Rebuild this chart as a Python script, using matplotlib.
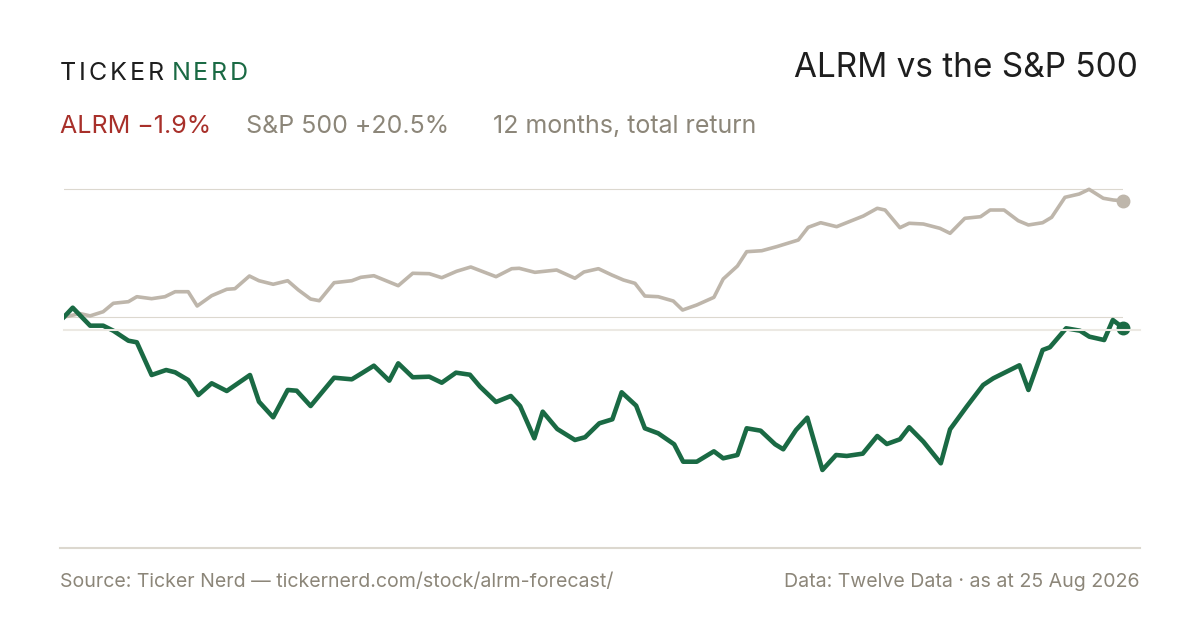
import matplotlib
matplotlib.use("Agg")
import matplotlib.pyplot as plt
from matplotlib.lines import Line2D

plt.rcParams['font.family'] = ['Inter', 'DejaVu Sans']

# days since start (calendar), total return in %
alrm_days = [0, 3.0, 9.0, 13.5, 17.0, 22.2, 25.1, 30.2, 35.2, 38.3, 42.8, 46.3, 50.9, 56.1,
             64.1, 67.2, 72.1, 77.1, 80.2, 85.0, 93.1, 99.2, 102.6, 106.8, 112.1, 115.2,
             120.2, 125.9, 130.2, 135.1, 139.9, 143.4, 148.9, 154.0, 157.2, 162.1, 165.0,
             170.0, 176.1, 179.6, 184.5, 189.0, 192.2, 197.2, 200.2, 204.8, 210.3, 213.4,
             218.1, 224.0, 227.2, 232.1, 235.3, 240.1, 245.1, 247.9, 252.3, 256.2, 261.4,
             266.1, 269.8, 275.3, 280.3, 283.6, 288.1, 291.3, 296.2, 302.2, 305.4, 311.1,
             316.8, 320.3, 329.3, 332.4, 337.3, 339.8, 345.4, 350.2, 353.4, 358.5, 361.5, 365]
alrm_ret = [0.0, 1.64, -1.53, -1.53, -2.42, -4.18, -4.46, -10.23, -9.35, -9.75, -11.11, -13.76,
            -11.69, -13.05, -10.23, -14.94, -17.69, -12.87, -13.0, -15.7, -10.71, -10.99, -9.93,
            -8.59, -11.23, -8.17, -10.63, -10.53, -11.59, -9.82, -10.18, -12.29, -14.99, -13.93,
            -15.70, -21.39, -16.70, -19.75, -21.69, -21.2, -18.75, -18.04, -13.28, -15.64, -19.63,
            -20.51, -22.45, -25.52, -25.52, -23.69, -24.92, -24.34, -19.63, -20.05, -22.45,
            -23.33, -19.93, -17.76, -26.98, -24.34, -24.51, -24.1, -20.99, -22.40, -21.57,
            -19.45, -21.99, -25.80, -19.81, -15.82, -11.99, -10.81, -8.52, -12.87, -5.82, -5.34,
            -1.99, -2.42, -3.47, -4.06, -0.53, -1.9]

spx_days = [0, 5.5, 9.0, 13.5, 17.0, 22.2, 25.1, 30.2, 34.8, 38.3, 42.8, 45.9, 50.9, 56.1, 58.9,
            63.9, 67.2, 72.1, 77.1, 80.8, 85.0, 88.0, 93.1, 99.2, 102.3, 106.8, 115.2, 120.2,
            125.9, 130.2, 135.3, 140.2, 148.9, 154.3, 156.9, 162.3, 169.8, 176.1, 179.2, 184.2,
            188.8, 192.8, 196.8, 200.2, 204.8, 210.0, 213.2, 218.1, 224.0, 227.2, 232.1, 235.3,
            240.5, 245.6, 253.1, 256.5, 260.8, 266.3, 275.5, 280.3, 283.0, 288.1, 291.3, 296.2,
            301.9, 305.4, 310.5, 315.9, 319.2, 324.0, 328.9, 332.4, 337.3, 340.4, 345.0, 349.9,
            353.3, 358.2, 361.7, 365]
spx_ret = [0.0, 0.6, 0.2, 0.93, 2.42, 2.70, 3.58, 3.23, 3.58, 4.46, 4.46, 1.94, 3.76, 4.89, 4.99,
           7.23, 6.40, 5.77, 6.40, 4.76, 3.17, 2.87, 6.05, 6.40, 7.00, 7.28, 5.52, 7.71, 7.64,
           6.93, 8.06, 8.82, 7.11, 8.52, 8.59, 7.88, 8.29, 6.83, 7.94, 8.52, 7.41, 6.53, 5.94,
           3.70, 3.58, 2.82, 1.23, 2.12, 3.47, 6.70, 8.99, 11.52, 11.69, 12.40, 13.58, 15.82,
           16.63, 15.93, 17.81, 19.17, 18.87, 15.75, 16.53, 16.40, 15.64, 14.76, 17.41, 17.69,
           18.87, 18.87, 16.98, 16.23, 16.63, 17.58, 21.11, 21.69, 22.52, 20.94, 20.63, 20.5]

GREEN = '#1a6a44'
RED = '#a8302a'
SAND = '#beb6ab'
GREY_TXT = '#8c8679'
RULE = '#dcd8cf'

W, H = 1200, 630
fig = plt.figure(figsize=(12, 6.3), dpi=100)
fig.patch.set_facecolor('white')


def fx(px):
    return px / W


def fy(py):
    return 1 - py / H


# plot area: x 64..1123 px, y 180..540 px
ax = fig.add_axes([fx(64), fy(540), fx(1123 - 64), (540 - 180) / H])
ax.set_xlim(0, 365)
ax.set_ylim((317 - 540) / 5.67, (317 - 180) / 5.67)
ax.axis('off')

# gridlines at baseline and S&P peak
for val in [0, max(spx_ret)]:
    ax.axhline(val, color=RULE, lw=0.8, zorder=1)

ax.plot(spx_days, spx_ret, color=SAND, lw=2.6, solid_joinstyle='round', zorder=2)
ax.plot(alrm_days, alrm_ret, color=GREEN, lw=3.3, solid_joinstyle='round', zorder=3)
ax.plot([spx_days[-1]], [spx_ret[-1]], 'o', color=SAND, ms=9, clip_on=False, zorder=4)
ax.plot([alrm_days[-1]], [alrm_ret[-1]], 'o', color=GREEN, ms=9, clip_on=False, zorder=4)

# separator rules
fig.add_artist(Line2D([fx(64), fx(1140)], [fy(330), fy(330)], color='#ece9e3', lw=1.5))
fig.add_artist(Line2D([fx(60), fx(1140)], [fy(548), fy(548)], color=RULE, lw=1.5))

# header logo, letter-spaced
renderer = fig.canvas.get_renderer()


def spaced(x0, y0, s, color, size, track):
    x = x0
    for ch in s:
        t = fig.text(fx(x), fy(y0), ch, fontsize=size, color=color, va='baseline')
        x += t.get_window_extent(renderer).width + track
    return x


end = spaced(60, 80, 'TICKER', '#1e1e1e', 18, 2.8)
spaced(end + 5, 80, 'NERD', GREEN, 18, 2.8)

fig.text(fx(1138), fy(77), 'ALRM vs the S&P 500', fontsize=24, color='#1e1e1e',
         ha='right', va='baseline')

sub_kw = dict(fontsize=18, va='baseline')
fig.text(fx(60), fy(133), 'ALRM \u22121.9%', color=RED, **sub_kw)
fig.text(fx(246), fy(133), 'S&P 500 +20.5%', color=GREY_TXT, **sub_kw)
fig.text(fx(493), fy(133), '12 months, total return', color=GREY_TXT, **sub_kw)

foot_kw = dict(fontsize=14.1, color=GREY_TXT, va='baseline')
fig.text(fx(60), fy(587), 'Source: Ticker Nerd \u2014 tickernerd.com/stock/alrm-forecast/', **foot_kw)
fig.text(fx(1140), fy(587), 'Data: Twelve Data \u00b7 as at 25 Aug 2026', ha='right', **foot_kw)

fig.savefig('out.png', dpi=100, facecolor='white')
